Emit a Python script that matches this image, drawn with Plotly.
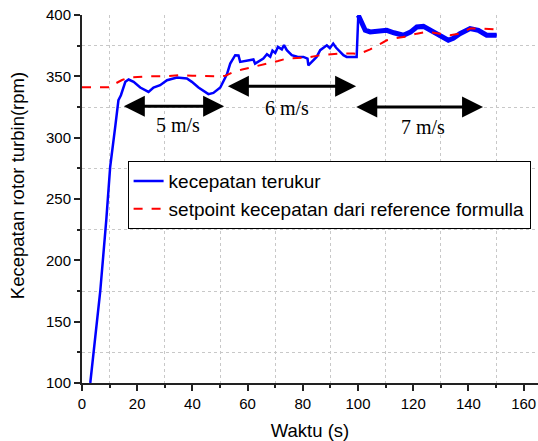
import plotly.graph_objects as go

# measured speed (kecepatan terukur)
t_meas = [3.0, 4.8, 6.6, 8.8, 10.2, 12.1, 13.2, 14.1, 15.7, 16.9, 18.7, 21.1, 24.1, 25.9, 28.3,
          30.8, 34.4, 38.0, 39.8, 42.2, 45.8, 47.6, 50.1, 52.5, 53.7, 55.5, 56.7, 57.3, 60.0,
          62.1, 62.7, 65.7, 67.0, 68.2, 69.0, 70.0, 71.0, 72.4, 73.2, 74.2, 76.0, 78.0, 80.2,
          81.7, 82.0, 85.0, 86.3, 87.5, 88.7, 89.8, 91.0, 92.0, 92.9, 94.7, 95.9, 99.5, 100.1,
          101.9, 102.6, 104.4, 107.0, 110.4, 113.0, 116.4, 119.0, 121.3, 123.7, 127.3, 130.0,
          132.7, 134.5, 136.9, 140.6, 143.6, 146.6, 150.2]
rpm_meas = [100, 138, 174.6, 232.9, 276, 310, 330.6, 334.6, 345.5, 347.4, 345.5, 340.9, 337.3,
            340.9, 342.8, 346.8, 349, 348.2, 345.5, 340.9, 335.5, 336.5, 340.9, 351.7, 360.4,
            367.2, 367, 361.8, 363, 363.7, 360.4, 364.5, 368, 366, 371, 369, 374, 372, 375.5,
            371.3, 367.2, 366, 365.8, 364.5, 359, 365.8, 371.3, 373, 375.3, 373, 376.7, 373.5,
            371.3, 367.2, 365.8, 365.8, 399.8, 390.2, 387.6, 386.2, 386.5, 387.5, 385.5, 383.5,
            386, 390.2, 390.7, 386.2, 382, 379.4, 381, 384.8, 388.9, 387.5, 383.5, 383.5]

# setpoint from reference formula
t_set = [0, 10.5, 12.0, 14.5, 17.0, 20, 25, 30, 35, 40, 45, 50, 52, 54.9, 58, 62.1, 65, 68.2,
         71, 74.2, 78, 81.4, 86.3, 90, 93.5, 98.3, 100.1, 104.4, 107, 110.4, 113, 116.4, 121.3,
         124.9, 129.7, 133.3, 136.9, 140.6, 145.4, 150.2]
rpm_set = [341, 341, 344, 347, 349, 349.5, 350, 350, 351, 350.5, 350, 350, 350.5, 353.6, 355.5,
           357.7, 359, 360.4, 362.5, 364.5, 365, 365.3, 367.2, 368, 368.6, 368.6, 368, 372, 375,
           379.4, 381, 382.1, 384.8, 386.2, 384.8, 383.5, 384.8, 388.9, 388.9, 388.1]

# wind-speed segments (double arrows) and labels
seg_labels = ["5 m/s", "6 m/s", "7 m/s"]
seg_start = [14.6, 52.3, 98.8]
seg_end = [51.5, 99.3, 145.3]
seg_level = [325.7, 342.0, 325.0]
label_x = [34.9, 74.3, 123.4]
label_y = [310.2, 324.1, 308.6]

fig = go.Figure()
fig.add_trace(go.Scatter(x=t_meas, y=rpm_meas, mode="lines", name="kecepatan terukur",
                         line=dict(color="#0000FF", width=2.5), legendgroup="m"))
# thicker overlay for the noisy 7 m/s part
idx = [i for i, t in enumerate(t_meas) if t >= 100.1]
fig.add_trace(go.Scatter(x=[t_meas[i] for i in idx], y=[rpm_meas[i] for i in idx], mode="lines",
                         line=dict(color="#0000FF", width=5), showlegend=False, legendgroup="m"))
fig.add_trace(go.Scatter(x=t_set, y=rpm_set, mode="lines",
                         name="setpoint kecepatan dari reference formulla",
                         line=dict(color="#FF0000", width=2, dash="dash")))

for s, e, lv, lab, lx, ly in zip(seg_start, seg_end, seg_level, seg_labels, label_x, label_y):
    fig.add_annotation(x=e, y=lv, ax=s, ay=lv, xref="x", yref="y", axref="x", ayref="y",
                       text="", showarrow=True, arrowhead=2, startarrowhead=2,
                       arrowside="end+start", arrowsize=1.4, startarrowsize=1.4,
                       arrowwidth=3, arrowcolor="black")
    fig.add_annotation(x=lx, y=ly, xref="x", yref="y", text=lab, showarrow=False,
                       font=dict(family="Liberation Serif, Times New Roman, serif", size=20,
                                 color="black"))

# y-axis title placed as a rotated annotation (slightly above the plot centre, as in the original)
fig.add_annotation(x=-0.1425, y=0.535, xref="paper", yref="paper",
                   text="Kecepatan rotor turbin(rpm)", showarrow=False, textangle=-90,
                   xanchor="center", yanchor="middle",
                   font=dict(family="Liberation Sans, Arial", size=18.5, color="black"))

axis_common = dict(showline=True, linecolor="#222", linewidth=2, ticks="outside",
                   tickcolor="#222", tickwidth=2, ticklen=6, showgrid=False, zeroline=False,
                   tickfont=dict(family="Liberation Sans, Arial", size=15, color="black"))

fig.update_xaxes(range=[0, 165.2], dtick=20, tick0=0,
                 minor=dict(dtick=10, tick0=0, ticks="outside", ticklen=3, tickwidth=2,
                            tickcolor="#222", showgrid=True, gridcolor="#c8c8c8",
                            griddash="dot", gridwidth=1),
                 title=dict(text="Waktu (s)", font=dict(family="Liberation Sans, Arial", size=18.5,
                                                         color="black"), standoff=14),
                 **axis_common)
fig.update_yaxes(range=[100, 400], dtick=50, tick0=100,
                 minor=dict(dtick=25, tick0=100, ticks="outside", ticklen=3, tickwidth=2,
                            tickcolor="#222", showgrid=True, gridcolor="#c8c8c8",
                            griddash="dot", gridwidth=1),
                 **axis_common)

fig.update_layout(
    width=538, height=441,
    margin=dict(l=82, r=0, t=15, b=58),
    plot_bgcolor="white", paper_bgcolor="white",
    legend=dict(x=0.1, y=0.603, xanchor="left", yanchor="top", bordercolor="black",
                borderwidth=1, bgcolor="white",
                font=dict(family="Liberation Sans, Arial", size=19, color="black"),
                tracegroupgap=0),
)

fig.write_html("out.html")
